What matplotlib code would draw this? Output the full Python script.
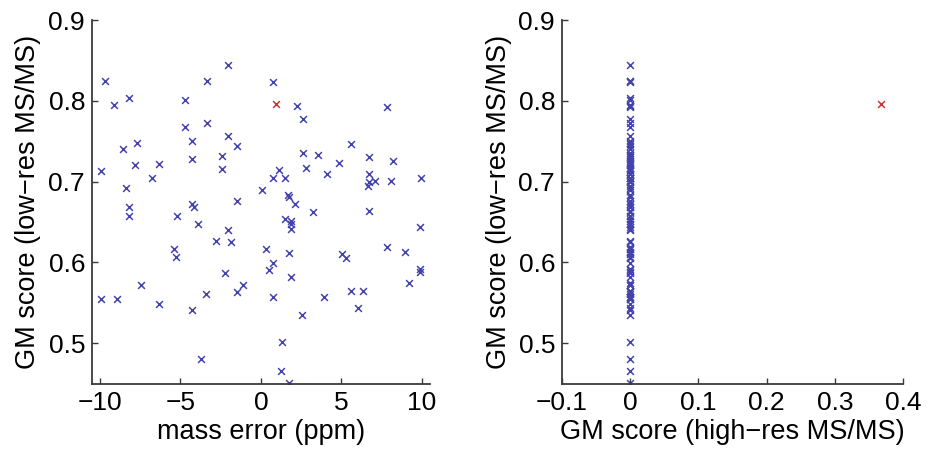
import numpy as np
import matplotlib
matplotlib.use("Agg")
import matplotlib.pyplot as plt

plt.rcParams["font.family"] = ["Liberation Sans", "DejaVu Sans"]

# mass error (ppm) and low-res GM score for each peptide
mass_err = [
    -9.71, -9.15, -8.20, -4.70, -3.37, -2.05, -4.70, -3.37, -8.55, -7.68,
    -4.27, -2.05, -1.47, -2.42, -4.27, -7.83, -6.35, -9.92, -6.75, -2.42,
    -8.39, 0.04, -1.51, -8.20, -4.27, -4.14, -8.20, -5.24, -3.89, -2.05,
    -2.81, -1.84, 0.31, -5.40, -5.26, 0.48, -2.24, -7.45, -1.10, -1.49,
    -3.40, -9.92, -8.96, -6.35, -4.30, -3.75, 0.76, 2.25, 7.81, 2.59,
    5.57, 2.59, 3.54, 6.73, 8.22, 4.86, 1.14, 2.80, 0.76, 1.51,
    4.12, 6.73, 7.10, 8.06, 9.96, 6.69, 6.65, 1.68, 1.72, 2.09,
    3.21, 6.71, 1.47, 1.84, 1.88, 1.84, 9.89, 1.72, 5.03, 5.26,
    7.84, 8.94, 0.76, 9.89, 9.89, 1.88, 9.21, 5.57, 6.34, 0.76,
    3.91, 6.01, 2.57, 1.32, 1.24, 1.72,
]
gm_low = [
    0.824, 0.795, 0.803, 0.801, 0.825, 0.844, 0.768, 0.772, 0.740, 0.748,
    0.750, 0.757, 0.744, 0.732, 0.728, 0.721, 0.722, 0.713, 0.704, 0.715,
    0.692, 0.690, 0.676, 0.669, 0.672, 0.669, 0.657, 0.657, 0.648, 0.640,
    0.627, 0.625, 0.617, 0.616, 0.607, 0.591, 0.587, 0.572, 0.572, 0.563,
    0.561, 0.555, 0.555, 0.548, 0.541, 0.480, 0.823, 0.793, 0.792, 0.777,
    0.747, 0.736, 0.733, 0.730, 0.726, 0.723, 0.714, 0.717, 0.705, 0.704,
    0.710, 0.709, 0.701, 0.701, 0.704, 0.699, 0.694, 0.684, 0.681, 0.672,
    0.663, 0.664, 0.654, 0.651, 0.648, 0.641, 0.644, 0.612, 0.611, 0.605,
    0.619, 0.613, 0.599, 0.592, 0.588, 0.582, 0.574, 0.565, 0.565, 0.557,
    0.557, 0.543, 0.535, 0.501, 0.466, 0.451,
]
# high-res GM score is zero for all of them except the highlighted one
gm_high = [0.0] * len(gm_low)

# the highlighted peptide
hl_mass_err = 0.93
hl_gm_low = 0.796
hl_gm_high = 0.368

blue = "#4343b0"
red = "#cc3333"
spine_c = "#3a3a3a"

fig = plt.figure(figsize=(9.29, 4.53), dpi=100)
ax1 = fig.add_axes([0.099, 0.1532, 0.3638, 0.8026])
ax2 = fig.add_axes([0.605, 0.1532, 0.367, 0.8026])

ax1.scatter(mass_err, gm_low, marker="x", s=24, lw=1.1, c=blue)
ax1.scatter([hl_mass_err], [hl_gm_low], marker="x", s=24, lw=1.1, c=red)
ax1.set_xlim(-10.5, 10.5)
ax1.set_xticks([-10, -5, 0, 5, 10])
ax1.set_xlabel("mass error (ppm)", fontsize=19.5, labelpad=3)

ax2.scatter(gm_high, gm_low, marker="x", s=24, lw=1.1, c=blue)
ax2.scatter([hl_gm_high], [hl_gm_low], marker="x", s=24, lw=1.1, c=red)
ax2.set_xlim(-0.1, 0.4)
ax2.set_xticks([-0.1, 0, 0.1, 0.2, 0.3, 0.4])
ax2.set_xticklabels(["\u22120.1", "0", "0.1", "0.2", "0.3", "0.4"])
ax2.set_xlabel("GM score (high\u2212res MS/MS)", fontsize=19.5, labelpad=3)

for ax in (ax1, ax2):
    ax.set_ylim(0.45, 0.9)
    ax.set_yticks([0.5, 0.6, 0.7, 0.8, 0.9])
    ax.set_ylabel("GM score (low\u2212res MS/MS)", fontsize=19.5, labelpad=5)
    ax.spines["top"].set_visible(False)
    ax.spines["right"].set_visible(False)
    for s in ("left", "bottom"):
        ax.spines[s].set_color(spine_c)
        ax.spines[s].set_linewidth(1.3)
    ax.tick_params(direction="in", length=4, width=1, color=spine_c,
                   labelsize=19, pad=5)

fig.savefig("out.png", dpi=100)
